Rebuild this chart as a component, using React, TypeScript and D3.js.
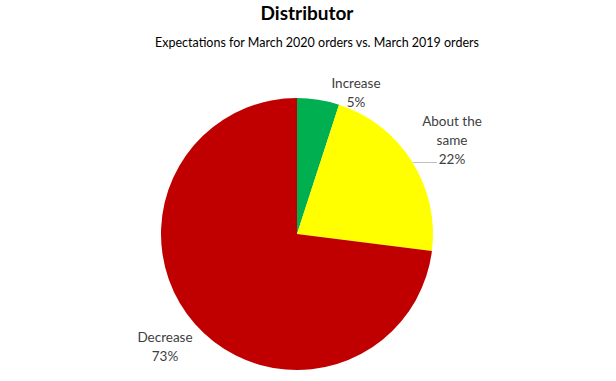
import React from "react";
import * as d3 from "d3";

const categories = ["Increase", "About the same", "Decrease"];
const values = [5, 22, 73];
const colors = ["#00B050", "#FFFF00", "#C00000"];
const title = "Distributor";
const subtitle = "Expectations for March 2020 orders vs. March 2019 orders";

export default function App() {
  const W = 616, H = 381;
  const cx = 297, cy = 234, r = 136;
  const pie = d3.pie<number>().sort(null).value((d) => d)(values);
  const arc = d3.arc<d3.PieArcDatum<number>>().innerRadius(0).outerRadius(r);
  const font = "Lato, 'Open Sans', sans-serif";
  const txt = "#404040";
  return (
    <svg width={W} height={H} style={{ position: "absolute", left: 0, top: 0 }}>
      <rect width={W} height={H} fill="#fff" />
      <text x={307} y={20} textAnchor="middle" fontFamily={font} fontWeight="bold" fontSize={19} fill="#000">{title}</text>
      <text x={317} y={47} textAnchor="middle" fontFamily={font} fontSize={12.5} fill="#000">{subtitle}</text>
      <g transform={`translate(${cx},${cy})`}>
        {pie.map((p, i) => (
          <path key={i} d={arc(p) || ""} fill={colors[i]} />
        ))}
      </g>
      <line x1={413} y1={162.5} x2={437} y2={162.5} stroke="#bfbfbf" strokeWidth={1} />
      <g fontFamily={font} fontSize={13.5} fill={txt} textAnchor="middle">
        <text x={356} y={88}>{categories[0]}</text>
        <text x={356} y={107}>{values[0]}%</text>
        <text x={452} y={126}>About the</text>
        <text x={452} y={145}>same</text>
        <text x={452} y={164}>{values[1]}%</text>
        <text x={165} y={342}>{categories[2]}</text>
        <text x={165} y={361}>{values[2]}%</text>
      </g>
    </svg>
  );
}
